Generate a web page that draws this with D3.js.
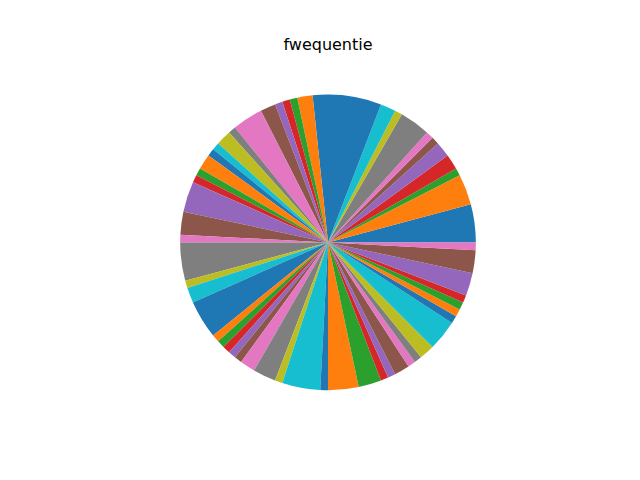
<!DOCTYPE html>
<html>
<head>
<meta charset="utf-8">
<script src="https://cdn.jsdelivr.net/npm/d3@7"></script>
<style>
  html, body { margin: 0; padding: 0; background: #fff; }
  svg { display: block; }
</style>
</head>
<body>
<svg id="chart" width="640" height="480"></svg>
<script>
const title = "fwequentie";
const values = [
  5,4,1,2,2,1,1,4,1,2,
  9,2,1,1,1,2,4,1,2,1,
  1,2,1,1,4,3,1,5,1,2,
  5,1,1,1,1,1,2,3,1,5,
  1,4,3,1,1,2,1,1,2,4,
  1,1,1,1,3,3,1
];
const palette = ["#1f77b4","#ff7f0e","#2ca02c","#d62728","#9467bd","#8c564b","#e377c2","#7f7f7f","#bcbd22","#17becf"];

const W = 640, H = 480;
const axTop = H * (1 - 0.88), axBottom = H * (1 - 0.11);
const axLeft = W * 0.125, axRight = W * 0.9;
const cx = (axLeft + axRight) / 2, cy = (axTop + axBottom) / 2;
const unit = (axBottom - axTop) / 2.5;
const radius = unit * 1.0;

const svg = d3.select("#chart");

const pie = d3.pie().value(d => d).sort(null)
  .startAngle(Math.PI / 2).endAngle(Math.PI / 2 - 2 * Math.PI);
const arc = d3.arc().innerRadius(0).outerRadius(radius);
const color = d3.scaleOrdinal().domain(d3.range(values.length)).range(palette);

svg.append("g").attr("transform", `translate(${cx},${cy})`)
  .selectAll("path").data(pie(values)).join("path")
  .attr("d", arc)
  .attr("fill", (d, i) => color(i));

svg.append("text")
  .attr("x", cx).attr("y", axTop - 8)
  .attr("text-anchor", "middle")
  .attr("font-family", "DejaVu Sans")
  .attr("font-size", 16)
  .attr("fill", "#000")
  .text(title);
</script>
</body>
</html>
